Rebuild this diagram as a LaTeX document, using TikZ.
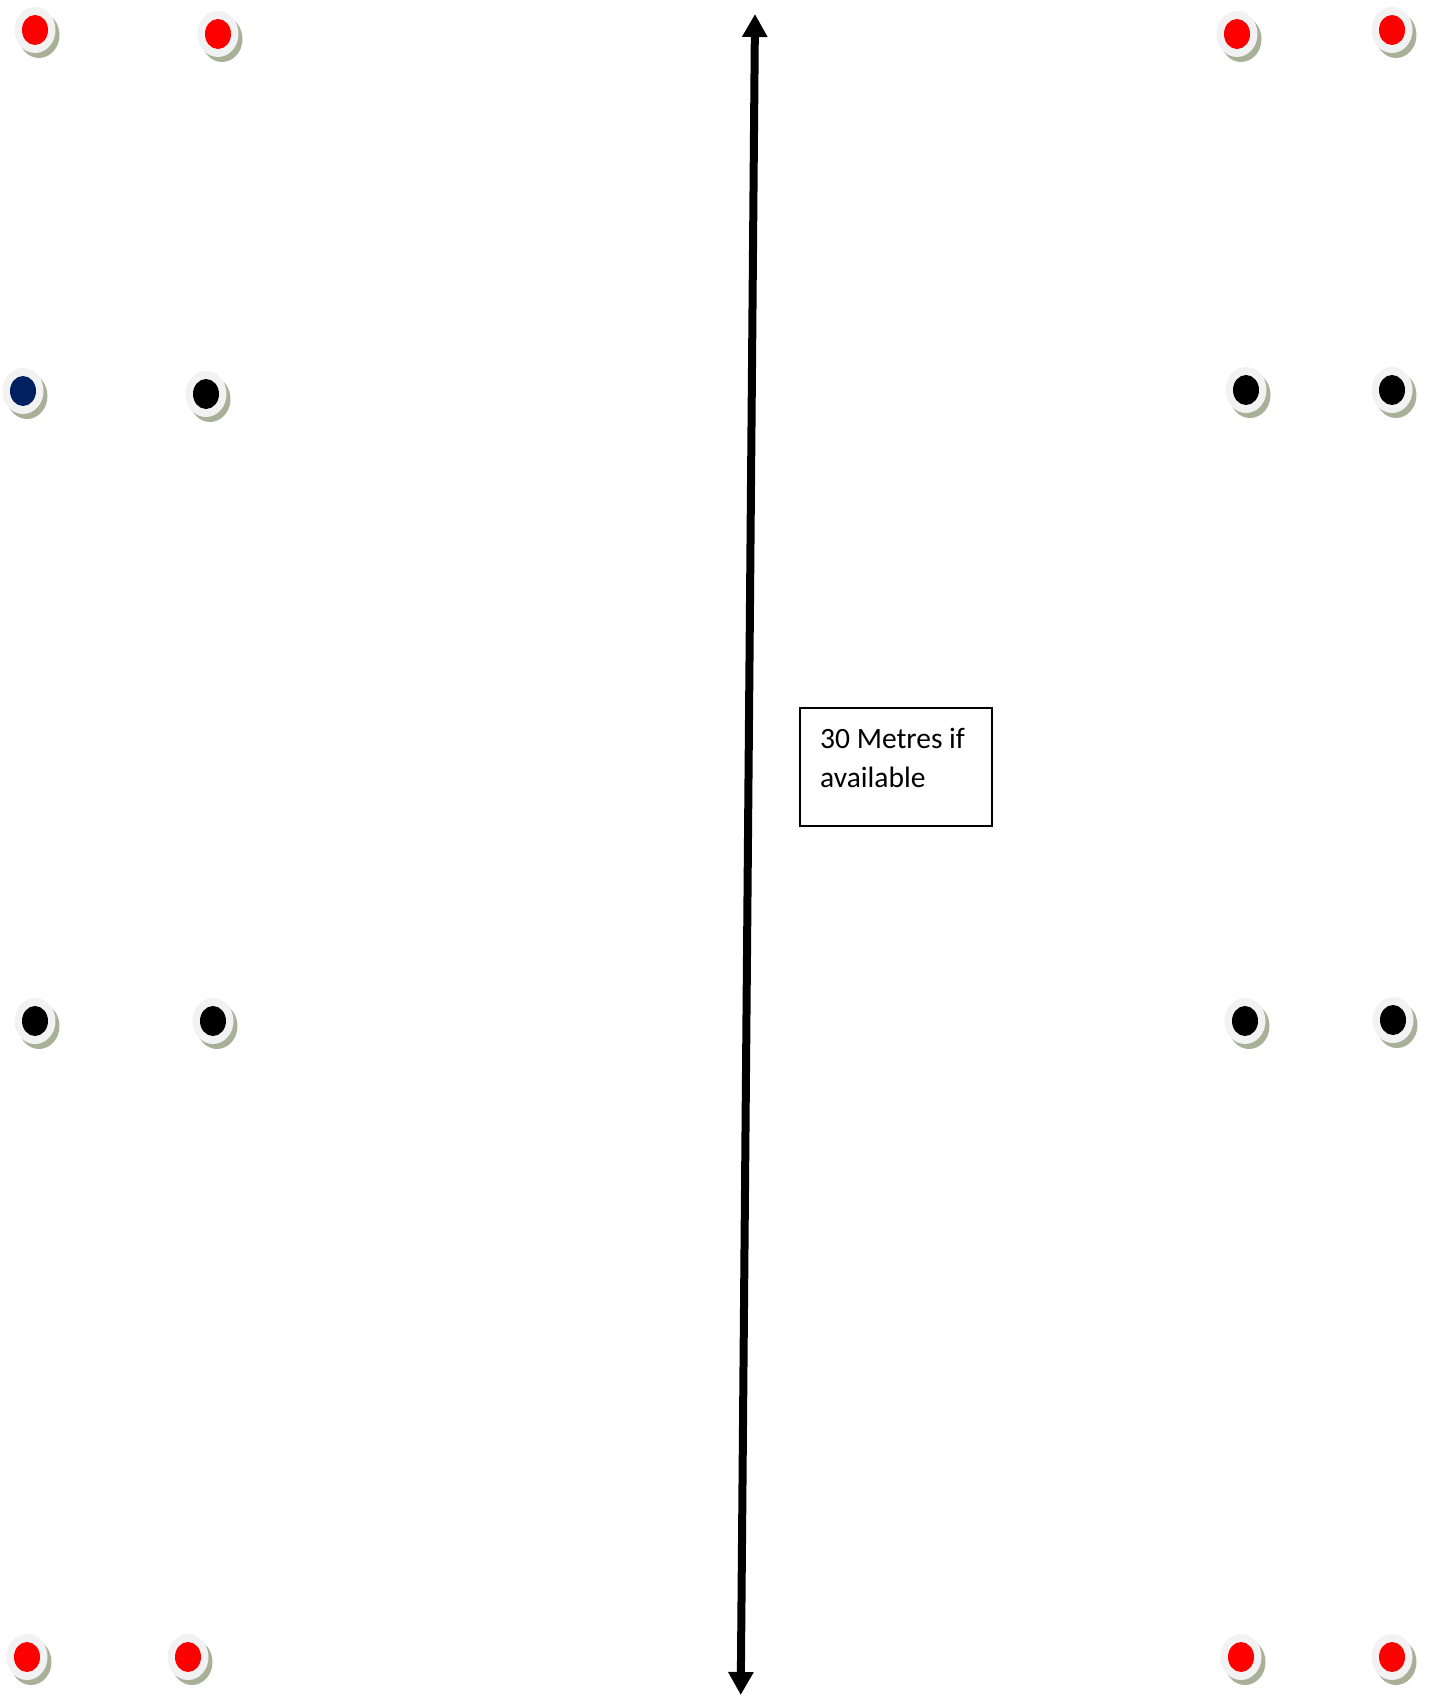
\documentclass[tikz,border=0pt]{standalone}
\usepackage{fontspec}
\setmainfont{Carlito}
\usepackage{tikz}
\usetikzlibrary{
  arrows.meta,
  shapes.geometric,
  shadows,
  positioning
}
\definecolor{RingGray}{RGB}{242, 242, 242}
\definecolor{ShadowOlive}{RGB}{169, 176, 151}
\definecolor{ConeNavy}{RGB}{0, 32, 96}
\definecolor{ConeRed}{RGB}{255, 0, 0}
\tikzset{
    cone/.style={
        ellipse, inner sep=0pt, minimum width=41pt, minimum height=46pt,
        fill=RingGray,
        drop shadow={shadow xshift=4pt, shadow yshift=-5pt, fill=ShadowOlive, opacity=1},
        path picture={\fill[#1] (path picture bounding box.center) ellipse[x radius=13pt, y radius=15pt];}
    },
    cone/.default=ConeRed,
    framebox/.style={draw=black, line width=2pt, minimum width=192pt, minimum height=118pt, inner sep=0pt},
    lengtharrow/.style={line width=8pt, {Triangle[width=24pt, length=23pt]}-{Triangle[width=24pt, length=23pt]}}
}

\begin{document}
\begin{tikzpicture}[x=1pt, y=-1pt]
            \useasboundingbox (0,0) rectangle (1431,1708);
            % cones, left and right columns
            \foreach \x/\y/\c/\n in {35/30/ConeRed/a1, 218/34/ConeRed/a2, 1237/34/ConeRed/a3, 1392/30/ConeRed/a4,
                                     23/391/ConeNavy/b1, 206/394/black/b2, 1246/390/black/b3, 1392/390/black/b4,
                                     35/1021/black/c1, 213/1021/black/c2, 1245/1021/black/c3, 1393/1020/black/c4,
                                     27/1657/ConeRed/d1, 188/1657/ConeRed/d2, 1241/1657/ConeRed/d3, 1392/1657/ConeRed/d4}
                \node[cone=\c] (cone-\n) at (\x,\y) {};
            % distance arrow
            \coordinate (top) at (755,14);
            \coordinate (bottom) at (740.7,1695);
            \draw[lengtharrow] (top) -- (bottom);
            % label
            \node[framebox] (box) at (896,767) {};
            \node[anchor=north west, inner sep=0pt, align=left, font=\fontsize{29.5}{39}\selectfont] (label) at ([shift={(21,21)}]box.north west) {30 Metres if\\available};
        \end{tikzpicture}
\end{document}
